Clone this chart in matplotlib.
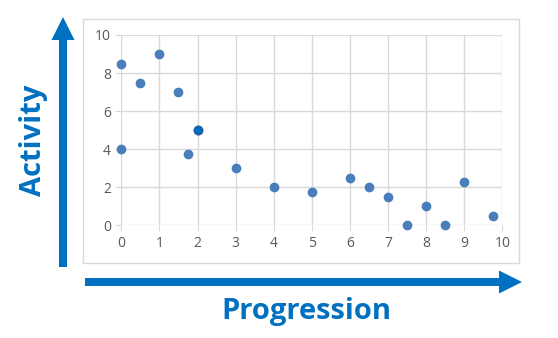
import matplotlib.pyplot as plt
from matplotlib.patches import FancyArrow, Rectangle

# data
progression = [0, 0, 0.5, 1, 1.5, 1.75, 2, 3, 4, 5, 6, 6.5, 7, 7.5, 8, 8.5, 9, 9.75]
activity = [8.5, 4, 7.5, 9, 7, 3.75, 5, 3, 2, 1.75, 2.5, 2, 1.5, 0, 1, 0, 2.25, 0.5]
x_ticks = list(range(0, 11))
y_ticks = [0, 2, 4, 6, 8, 10]

W, H = 558, 338
blue = '#0070C0'
grey_text = '#595959'
grid = '#D9D9D9'

fig = plt.figure(figsize=(W / 100, H / 100), dpi=100)

# overlay in pixel coordinates for frame, arrows and big labels
over = fig.add_axes([0, 0, 1, 1])
over.set_xlim(0, W)
over.set_ylim(H, 0)
over.axis('off')
over.add_patch(Rectangle((83, 19), 436, 244, fill=False, ec='#D9D9D9', lw=1))
over.add_patch(FancyArrow(63, 267, 0, -250, width=8, head_width=23, head_length=23,
                          length_includes_head=True, color=blue, lw=0))
over.add_patch(FancyArrow(85, 282, 437, 0, width=8, head_width=23, head_length=23,
                          length_includes_head=True, color=blue, lw=0))
over.text(33, 140, 'Activity', rotation=90, ha='center', va='center',
          color=blue, fontsize=21, fontweight='bold', family='Open Sans')
over.text(306, 311, 'Progression', ha='center', va='center',
          color=blue, fontsize=21, fontweight='bold', family='Open Sans')

ax = fig.add_axes([121.3 / W, 1 - 225.3 / H, 381 / W, 190.3 / H])
ax.scatter(progression, activity, s=36, color='#4A7EBB', zorder=3, clip_on=False)
ax.scatter([2], [5], s=36, color=blue, edgecolor='#1F5FA0', lw=1, zorder=4, clip_on=False)
ax.set_xlim(0, 10)
ax.set_ylim(0, 10)
ax.set_xticks(x_ticks)
ax.set_yticks(y_ticks)
ax.grid(True, color=grid, lw=1)
ax.set_axisbelow(True)
for s in ax.spines.values():
    s.set_visible(False)
ax.tick_params(colors=grid, labelcolor=grey_text, labelsize=10, length=4)
for lab in ax.get_xticklabels() + ax.get_yticklabels():
    lab.set_family('Open Sans')

fig.savefig('out.png', dpi=100)
